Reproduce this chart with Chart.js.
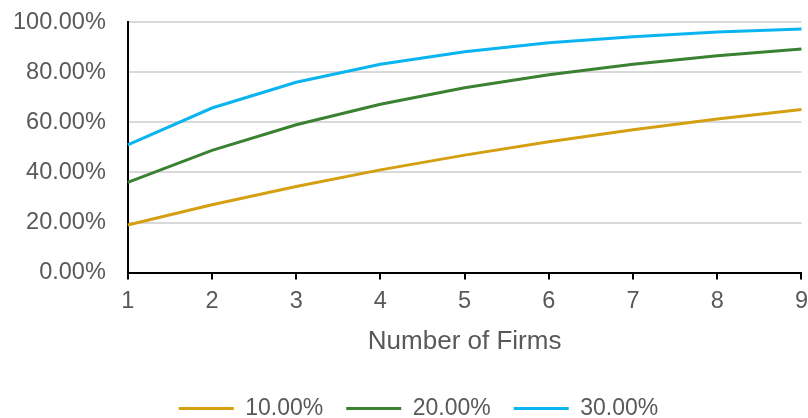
<!DOCTYPE html>
<html>
<head>
<meta charset="utf-8">
<script src="https://cdn.jsdelivr.net/npm/chart.js@4"></script>
<style>
  html, body { margin: 0; padding: 0; background: #fff; overflow: hidden; }
  #wrap { width: 808px; height: 418px; overflow: hidden; position: relative; }
  /* canvas is a bit larger than the view so the plot can sit closer to the edges */
  #firmsChart { position: absolute; left: 0; top: -14px; }
</style>
</head>
<body>
<div id="wrap"><canvas id="firmsChart" width="816" height="432"></canvas></div>
<script>
// Data
const firms = ["1", "2", "3", "4", "5", "6", "7", "8", "9"];
const p10 = [19.0, 27.1, 34.4, 41.0, 46.9, 52.2, 57.0, 61.3, 65.1];
const p20 = [36.0, 48.8, 59.0, 67.2, 73.8, 79.0, 83.2, 86.6, 89.3];
const p30 = [51.0, 65.7, 76.0, 83.2, 88.2, 91.8, 94.2, 96.0, 97.2];
const seriesNames = ["10.00%", "20.00%", "30.00%"];

const textColor = "#595959";
const fontFamily = "'Liberation Sans', Arial, sans-serif";

// nudge the legend a little to the right, like in the original
const legendShift = {
  id: 'legendShift',
  afterLayout(chart) {
    chart.legend.left += 15;
    chart.legend.right += 15;
  }
};

const ctx = document.getElementById("firmsChart").getContext("2d");
const firmsChart = new Chart(ctx, {
  type: 'line',
  data: {
    labels: firms,
    datasets: [
      { label: seriesNames[0], data: p10, borderColor: "#D4A012", backgroundColor: "#D4A012", borderWidth: 3, pointRadius: 0, tension: 0 },
      { label: seriesNames[1], data: p20, borderColor: "#3B8132", backgroundColor: "#3B8132", borderWidth: 3, pointRadius: 0, tension: 0 },
      { label: seriesNames[2], data: p30, borderColor: "#0AB4F0", backgroundColor: "#0AB4F0", borderWidth: 3, pointRadius: 0, tension: 0 }
    ]
  },
  options: {
    animation: false,
    responsive: false,
    layout: { padding: { left: -9, right: 0, top: 0, bottom: -12 } },
    plugins: {
      legend: {
        position: 'bottom',
        labels: {
          color: textColor,
          font: { size: 23, family: fontFamily },
          usePointStyle: true,
          pointStyle: 'line',
          pointStyleWidth: 55,
          boxHeight: 23,
          padding: 23
        }
      },
      tooltip: { enabled: false }
    },
    scales: {
      x: {
        offset: false,
        border: { color: "#000", width: 2 },
        grid: { display: true, drawOnChartArea: false, color: "#000", lineWidth: 2, tickLength: 7 },
        ticks: { color: textColor, font: { size: 23.5, family: fontFamily }, padding: 8, maxRotation: 0 },
        title: { display: true, text: "Number of Firms", color: textColor, font: { size: 26, family: fontFamily }, padding: { top: 2, bottom: 17 } }
      },
      y: {
        min: 0,
        max: 100,
        border: { color: "#000", width: 2 },
        grid: { color: "#D9D9D9", lineWidth: 2, drawTicks: false },
        ticks: {
          stepSize: 20,
          color: textColor,
          font: { size: 23.5, family: fontFamily },
          padding: 22,
          callback: v => v.toFixed(2) + "%"
        }
      }
    }
  },
  plugins: [legendShift]
});
</script>
</body>
</html>
